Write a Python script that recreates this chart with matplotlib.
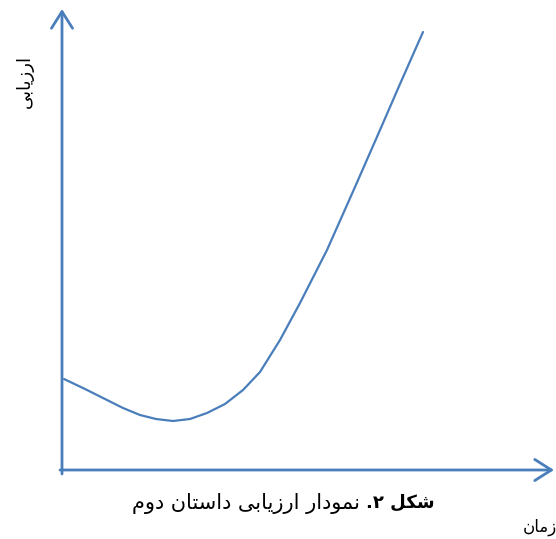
import matplotlib
matplotlib.use('Agg')
import matplotlib.pyplot as plt

# data (time vs. evaluation, arbitrary units)
time = [2, 23, 45, 61, 78, 94, 111, 128, 145, 163, 181, 198, 218, 238, 265, 293, 318, 338, 361]
evaluation = [91, 81, 70, 62, 55, 51, 49, 51, 57, 66, 80, 98, 130, 167, 220, 283, 340, 386, 438]

y_label = 'ارزیابی'
x_label = 'زمان'
caption_bold = 'شکل ۲.'
caption_text = 'نمودار ارزیابی داستان دوم'

blue = '#4A7EBB'

# simple arabic shaping (matplotlib has no shaping / bidi)
FORMS = {
    'ا': ('\uFE8D', '\uFE8E', None, None),
    'ب': ('\uFE8F', '\uFE90', '\uFE91', '\uFE92'),
    'ت': ('\uFE95', '\uFE96', '\uFE97', '\uFE98'),
    'د': ('\uFEA9', '\uFEAA', None, None),
    'ر': ('\uFEAD', '\uFEAE', None, None),
    'ز': ('\uFEAF', '\uFEB0', None, None),
    'س': ('\uFEB1', '\uFEB2', '\uFEB3', '\uFEB4'),
    'ش': ('\uFEB5', '\uFEB6', '\uFEB7', '\uFEB8'),
    'ل': ('\uFEDD', '\uFEDE', '\uFEDF', '\uFEE0'),
    'م': ('\uFEE1', '\uFEE2', '\uFEE3', '\uFEE4'),
    'ن': ('\uFEE5', '\uFEE6', '\uFEE7', '\uFEE8'),
    'و': ('\uFEED', '\uFEEE', None, None),
    'ی': ('\uFBFC', '\uFBFD', '\uFBFE', '\uFBFF'),
    'ک': ('\uFB8E', '\uFB8F', '\uFB90', '\uFB91'),
}


def dual(c):
    return c in FORMS and FORMS[c][2] is not None


def shape_word(w):
    out = []
    for i, c in enumerate(w):
        if c not in FORMS:
            out.append(c)
            continue
        prev = i > 0 and dual(w[i - 1])
        nxt = i < len(w) - 1 and w[i + 1] in FORMS and dual(c)
        iso, fin, ini, med = FORMS[c]
        if prev and nxt:
            out.append(med)
        elif prev:
            out.append(fin)
        elif nxt:
            out.append(ini)
        else:
            out.append(iso)
    return ''.join(reversed(out))


def rtl(s):
    return ' '.join(shape_word(w) for w in reversed(s.split(' ')))


fig = plt.figure(figsize=(5.56, 5.39), dpi=100)
ax = fig.add_axes([0, 0, 1, 1])
ax.set_xlim(-62, 494)
ax.set_ylim(-69, 470)
ax.axis('off')

ax.plot(time, evaluation, color=blue, lw=1.6, solid_capstyle='round',
        solid_joinstyle='round')

arrow = dict(arrowstyle='->, head_length=0.6, head_width=0.38', color=blue,
             lw=2, shrinkA=0, shrinkB=0, mutation_scale=20)
ax.annotate('', xy=(0, 461), xytext=(0, -4), arrowprops=arrow)
ax.annotate('', xy=(492, 0), xytext=(-2, 0), arrowprops=arrow)

ax.text(-37, 388, rtl(y_label), rotation=90, fontsize=13,
        ha='center', va='center', family='DejaVu Sans')
ax.text(461, -57, rtl(x_label), fontsize=12, ha='left', va='center',
        family='DejaVu Sans')
ax.text(373, -33, rtl(caption_bold), fontsize=13, fontweight='bold',
        ha='right', va='center', family='DejaVu Sans')
ax.text(298, -33, rtl(caption_text), fontsize=15, ha='right', va='center',
        family='DejaVu Sans')

fig.savefig('out.png', dpi=100)
